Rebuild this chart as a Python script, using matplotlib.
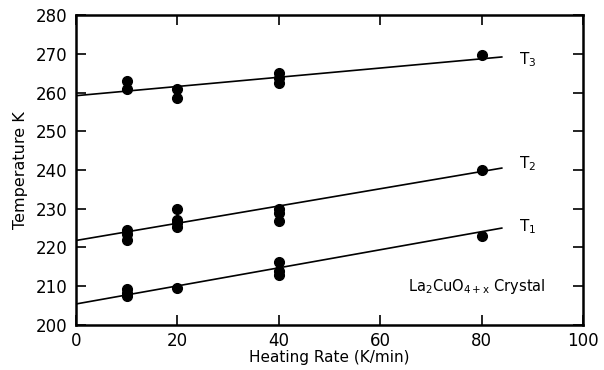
import matplotlib
matplotlib.use("Agg")
import matplotlib.pyplot as plt
import numpy as np

rate_T3 = [10, 10, 20, 20, 40, 40, 40, 80]
temp_T3 = [263, 261, 261, 258.7, 265, 263.8, 262.6, 269.8]
rate_T2 = [10, 10, 10, 20, 20, 20, 20, 40, 40, 40, 80]
temp_T2 = [224.4, 223.5, 222, 229.9, 227.2, 226.4, 225.2, 230, 228.8, 226.9, 240.1]
rate_T1 = [10, 10, 10, 20, 40, 40, 40, 80]
temp_T1 = [209.2, 208.2, 207.5, 209.4, 216.2, 214, 212.9, 223]

fit_x = [0, 84]
fit_T3 = [259.2, 269.2]
fit_T2 = [221.8, 240.5]
fit_T1 = [205.4, 225.0]

labels = ["T$_3$", "T$_2$", "T$_1$"]
label_y = [268.6, 241.6, 225.3]

plt.rcParams['font.family'] = ['DejaVu Sans']
fig = plt.figure(figsize=(6.04, 3.70), dpi=100)
ax = fig.add_axes([0.126, 0.122, 0.839, 0.837])

for rx, ty, fy in [(rate_T3, temp_T3, fit_T3), (rate_T2, temp_T2, fit_T2), (rate_T1, temp_T1, fit_T1)]:
    ax.plot(fit_x, fy, color='black', lw=1.2)
    ax.plot(rx, ty, 'o', color='black', ms=7)

for lab, ly in zip(labels, label_y):
    ax.text(87.3, ly, lab, fontsize=11, ha='left', va='center')

ax.text(79, 210, r"La$_2$CuO$_{4+\mathrm{x}}$ Crystal", fontsize=10.5, ha='center', va='center')

ax.set_xlim(0, 100)
ax.set_ylim(200, 280)
ax.set_xticks([0, 20, 40, 60, 80, 100])
ax.set_yticks(np.arange(200, 281, 10))
ax.tick_params(direction='in', top=True, right=True, length=7, width=1.2, labelsize=12)
ax.tick_params(axis='x', pad=5)
ax.tick_params(axis='y', pad=6)
for s in ax.spines.values():
    s.set_linewidth(1.8)
ax.set_xlabel("Heating Rate (K/min)", fontsize=11, labelpad=0)
ax.set_ylabel("Temperature K", fontsize=11.5, labelpad=6)

fig.savefig("out.png", dpi=100)
